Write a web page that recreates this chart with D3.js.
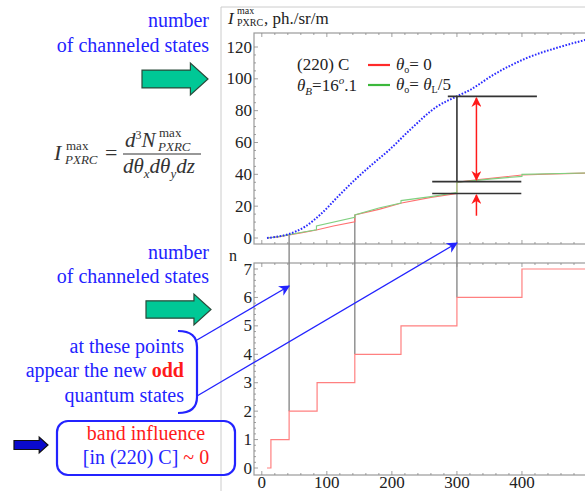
<!DOCTYPE html>
<html>
<head>
<meta charset="utf-8">
<script src="https://cdn.jsdelivr.net/npm/d3@7/dist/d3.min.js"></script>
<style>
  body { margin: 0; background: #fff; }
  svg { display: block; }
  svg text { font-family: "Liberation Serif", "DejaVu Serif", serif; }
</style>
</head>
<body>
<div id="chart"></div>
<script>
// crystal length L (µm) vs PXRC intensity, and number of channeled states n

// blue dotted curve (upper envelope)
const blueL = [8, 20, 40, 66, 92, 117, 143, 169, 195, 228, 269, 300, 320, 356, 407, 458, 500];
const blueI = [0, 0.6, 2.3, 7, 15.5, 26, 36.5, 46, 55, 68, 82.5, 89, 93, 102.5, 113, 120, 124.7];

// red curve, theta_o = 0 (jumps at new odd states)
const redL = [8, 25, 42, 60, 84, 110, 143, 143, 180, 215, 260, 300, 300, 330, 400, 450, 500];
const redI = [0, 0.7, 1.9, 3.2, 5, 7.5, 10.2, 14.5, 18, 22, 25.5, 28, 35, 36.5, 39.6, 40.3, 40.8];

// green curve, theta_o = theta_L/5
const greenL = [8, 25, 42, 60, 84, 84, 143, 143, 180, 214, 214, 260, 300, 300, 350, 400, 400, 500];
const greenI = [0, 0.8, 2.1, 3.5, 5.2, 7.6, 13, 14.5, 18.8, 22, 23.5, 26, 28.5, 35, 37, 38.7, 40, 40.9];

// number of channeled states (step function)
const stepL = [8, 14, 42, 85, 143, 214, 300, 400, 510];
const stepN = [0, 1, 2, 3, 4, 5, 6, 7, 7];

// lengths where new odd states appear, with intensity and n at that point
const oddL = [42, 143, 300];
const oddI = [2, 14.5, 28];
const oddN = [2, 4, 6];

const topTicks = [0, 20, 40, 60, 80, 100, 120];
const botTicks = [0, 1, 2, 3, 4, 5, 6, 7];
const xTicks = [0, 100, 200, 300, 400];

const W = 585, H = 491;
const BLUE = '#2323ff';
const RED = '#ff1a1a';
const SERIF = '"Liberation Serif", "DejaVu Serif", serif';

const svg = d3.select('#chart').append('svg').attr('width', W).attr('height', H)
  .attr('font-family', SERIF);

const x = d3.scaleLinear().domain([-12, 500]).range([254, 587]);
const yTop = d3.scaleLinear().domain([0, 120]).range([238, 47]);
const yBot = d3.scaleLinear().domain([0, 7]).range([468, 269]);

const defs = svg.append('defs');
function marker(id, color, w) {
  defs.append('marker')
    .attr('id', id).attr('viewBox', '0 0 10 10').attr('refX', 9).attr('refY', 5)
    .attr('markerWidth', w).attr('markerHeight', w).attr('orient', 'auto-start-reverse')
    .attr('markerUnits', 'userSpaceOnUse')
    .append('path').attr('d', 'M0,0 L10,5 L0,10 L3,5 Z').attr('fill', color);
}
marker('arrBlue', BLUE, 11);
marker('arrRed', RED, 10);

// outer slide border
svg.append('line').attr('x1', 221).attr('x2', 221).attr('y1', 7).attr('y2', H).attr('stroke', '#ccc');
svg.append('line').attr('x1', 221).attr('x2', W).attr('y1', 7).attr('y2', 7).attr('stroke', '#ccc');

// panel frames
const topBox = { x0: 254, x1: 600, y0: 33, y1: 244 };
const botBox = { x0: 254, x1: 600, y0: 263, y1: 475 };
[topBox, botBox].forEach(b => {
  svg.append('rect').attr('x', b.x0).attr('y', b.y0).attr('width', b.x1 - b.x0).attr('height', b.y1 - b.y0)
    .attr('fill', 'none').attr('stroke', '#9a9a9a').attr('stroke-width', 1.2);
});

// tick marks along frames
const gTicks = svg.append('g').attr('stroke', '#888').attr('stroke-width', 0.8);
d3.range(0, 501, 20).forEach(v => {
  const len = v % 100 === 0 ? 4 : 2;
  [topBox, botBox].forEach(b => {
    gTicks.append('line').attr('x1', x(v)).attr('x2', x(v)).attr('y1', b.y1).attr('y2', b.y1 - len);
    gTicks.append('line').attr('x1', x(v)).attr('x2', x(v)).attr('y1', b.y0).attr('y2', b.y0 + len);
  });
});
d3.range(0, 125, 5).forEach(v => {
  const len = v % 20 === 0 ? 4 : 2;
  gTicks.append('line').attr('x1', topBox.x0).attr('x2', topBox.x0 + len).attr('y1', yTop(v)).attr('y2', yTop(v));
});
d3.range(0, 7.01, 0.2).forEach(v => {
  const len = Math.abs(v - Math.round(v)) < 0.01 ? 4 : 2;
  gTicks.append('line').attr('x1', botBox.x0).attr('x2', botBox.x0 + len).attr('y1', yBot(v)).attr('y2', yBot(v));
});

// tick labels
svg.append('g').selectAll('text').data(topTicks).join('text')
  .attr('x', 252).attr('y', d => yTop(d) + 5.5).attr('text-anchor', 'end')
  .attr('font-size', 17).attr('fill', '#222').text(d => d);
svg.append('g').selectAll('text').data(botTicks).join('text')
  .attr('x', 252).attr('y', d => yBot(d) + 5.5).attr('text-anchor', 'end')
  .attr('font-size', 17).attr('fill', '#222').text(d => d);
svg.append('g').selectAll('text').data(xTicks).join('text')
  .attr('x', d => x(d)).attr('y', 488).attr('text-anchor', 'middle')
  .attr('font-size', 17).attr('fill', '#222').text(d => d);

svg.append('text').attr('x', 229).attr('y', 261).attr('font-size', 16).attr('fill', '#222').text('n');

// axis title
const title = svg.append('text').attr('y', 24).attr('font-size', 17).attr('fill', '#222');
title.append('tspan').attr('x', 228).attr('font-style', 'italic').text('I');
title.append('tspan').attr('x', 237).attr('y', 14).attr('font-size', 10).text('max');
title.append('tspan').attr('x', 237).attr('y', 26).attr('font-size', 10).text('PXRC');
title.append('tspan').attr('x', 264).attr('y', 24).text(', ph./sr/m');

// grey vertical lines linking odd-state jumps to the step plot
oddL.forEach((L, i) => {
  svg.append('line').attr('x1', x(L)).attr('x2', x(L))
    .attr('y1', yTop(oddI[i])).attr('y2', yBot(oddN[i]))
    .attr('stroke', '#8a8a8a').attr('stroke-width', 1.4);
});

const lineTop = d3.line().x(d => x(d[0])).y(d => yTop(d[1]));

svg.append('path').datum(d3.zip(redL, redI)).attr('d', lineTop)
  .attr('fill', 'none').attr('stroke', '#ff7070').attr('stroke-width', 1.1);
svg.append('path').datum(d3.zip(greenL, greenI)).attr('d', lineTop)
  .attr('fill', 'none').attr('stroke', '#80d080').attr('stroke-width', 1.1);
svg.append('path').datum(d3.zip(blueL, blueI)).attr('d', lineTop.curve(d3.curveMonotoneX))
  .attr('fill', 'none').attr('stroke', '#2a2aff').attr('stroke-width', 2)
  .attr('stroke-dasharray', '1.6,1.6');

// step plot
const lineBot = d3.line().x(d => x(d[0])).y(d => yBot(d[1])).curve(d3.curveStepAfter);
svg.append('path').datum(d3.zip(stepL, stepN)).attr('d', lineBot)
  .attr('fill', 'none').attr('stroke', '#ff8080').attr('stroke-width', 1.2);

// black annotation bars at L = 300
const gAnn = svg.append('g').attr('stroke', '#333').attr('stroke-width', 1.6);
gAnn.append('line').attr('x1', x(286)).attr('x2', x(423)).attr('y1', yTop(89)).attr('y2', yTop(89));
gAnn.append('line').attr('x1', x(262)).attr('x2', x(399)).attr('y1', yTop(35.4)).attr('y2', yTop(35.4));
gAnn.append('line').attr('x1', x(262)).attr('x2', x(399)).attr('y1', yTop(28)).attr('y2', yTop(28));
gAnn.append('line').attr('x1', x(300)).attr('x2', x(300)).attr('y1', yTop(89)).attr('y2', yTop(35.4));

// red arrows
svg.append('line').attr('x1', x(330)).attr('x2', x(330)).attr('y1', yTop(88)).attr('y2', yTop(36.5))
  .attr('stroke', RED).attr('stroke-width', 1.5)
  .attr('marker-start', 'url(#arrRed)').attr('marker-end', 'url(#arrRed)');
svg.append('line').attr('x1', x(330)).attr('x2', x(330)).attr('y1', yTop(14)).attr('y2', yTop(27))
  .attr('stroke', RED).attr('stroke-width', 1.5).attr('marker-end', 'url(#arrRed)');

// legend
svg.append('text').attr('x', 297).attr('y', 70).attr('font-size', 17).attr('fill', '#222').text('(220) C');
const tb = svg.append('text').attr('x', 297).attr('y', 91).attr('font-size', 17).attr('fill', '#222');
tb.append('tspan').attr('font-style', 'italic').text('θ');
tb.append('tspan').attr('font-style', 'italic').attr('font-size', 11).attr('dy', 4).text('B');
tb.append('tspan').attr('dy', -4).text('=16');
tb.append('tspan').attr('font-style', 'italic').attr('font-size', 11).attr('dy', -7).text('o');
tb.append('tspan').attr('dy', 7).text('.1');

svg.append('line').attr('x1', 368).attr('x2', 390).attr('y1', 65).attr('y2', 65).attr('stroke', '#ff2a2a').attr('stroke-width', 2.2);
svg.append('line').attr('x1', 368).attr('x2', 390).attr('y1', 85).attr('y2', 85).attr('stroke', '#3cb83c').attr('stroke-width', 2.2);
const l1 = svg.append('text').attr('x', 396).attr('y', 70).attr('font-size', 17).attr('fill', '#222');
l1.append('tspan').attr('font-style', 'italic').text('θ');
l1.append('tspan').attr('font-size', 10).attr('dy', 3).text('o');
l1.append('tspan').attr('dy', -3).text('= 0');
const l2 = svg.append('text').attr('x', 396).attr('y', 90).attr('font-size', 17).attr('fill', '#222');
l2.append('tspan').attr('font-style', 'italic').text('θ');
l2.append('tspan').attr('font-size', 10).attr('dy', 3).text('o');
l2.append('tspan').attr('dy', -3).text('= ');
l2.append('tspan').attr('font-style', 'italic').text('θ');
l2.append('tspan').attr('font-size', 10).attr('dy', 3).text('L');
l2.append('tspan').attr('dy', -3).text('/5');

// left side: blue captions
function caption(y1, y2) {
  svg.append('text').attr('x', 209).attr('y', y1).attr('text-anchor', 'end')
    .attr('font-size', 20).attr('fill', BLUE).text('number');
  svg.append('text').attr('x', 209).attr('y', y2).attr('text-anchor', 'end')
    .attr('font-size', 20).attr('fill', BLUE).text('of channeled states');
}
caption(27, 52);
caption(259, 283);

function fatArrow(x0, y0, x1, y1, fill, stroke) {
  const h = y1 - y0, mid = (y0 + y1) / 2, sh = h * 0.28, hx = x1 - h * 0.55;
  svg.append('path')
    .attr('d', `M${x0},${mid - sh} L${hx},${mid - sh} L${hx},${y0} L${x1},${mid} L${hx},${y1} L${hx},${mid + sh} L${x0},${mid + sh} Z`)
    .attr('fill', fill).attr('stroke', stroke).attr('stroke-width', 1.2);
}
fatArrow(142, 63, 208, 95, '#00c896', '#2a4a3a');
fatArrow(146, 294, 211, 325, '#00c896', '#2a4a3a');
fatArrow(14, 437, 48, 453, '#0a0acc', '#111');

// formula
const f = svg.append('g').attr('fill', '#333');
f.append('text').attr('x', 54).attr('y', 160).attr('font-size', 22).attr('font-style', 'italic').text('I');
f.append('text').attr('x', 66).attr('y', 150).attr('font-size', 13).text('max');
f.append('text').attr('x', 65).attr('y', 164).attr('font-size', 13).attr('font-style', 'italic').text('PXRC');
f.append('text').attr('x', 105).attr('y', 160).attr('font-size', 22).text('=');
const num = f.append('text').attr('x', 125).attr('y', 147).attr('font-size', 21).attr('font-style', 'italic');
num.append('tspan').text('d');
num.append('tspan').attr('font-style', 'normal').attr('font-size', 12).attr('dy', -8).text('3');
num.append('tspan').attr('dy', 8).text('N');
f.append('text').attr('x', 159).attr('y', 137).attr('font-size', 13).text('max');
f.append('text').attr('x', 158).attr('y', 151).attr('font-size', 13).attr('font-style', 'italic').text('PXRC');
f.append('line').attr('x1', 123).attr('x2', 201).attr('y1', 154).attr('y2', 154).attr('stroke', '#333').attr('stroke-width', 1.2);
const den = f.append('text').attr('x', 123).attr('y', 173).attr('font-size', 21).attr('font-style', 'italic');
den.append('tspan').text('dθ');
den.append('tspan').attr('font-size', 13).attr('dy', 5).text('x');
den.append('tspan').attr('dy', -5).text('dθ');
den.append('tspan').attr('font-size', 13).attr('dy', 5).text('y');
den.append('tspan').attr('dy', -5).text('dz');

// bracketed note with arrows
const note = svg.append('g').attr('font-size', 20).attr('fill', BLUE).attr('text-anchor', 'end');
note.append('text').attr('x', 184).attr('y', 353).text('at these points');
const n2 = note.append('text').attr('x', 184).attr('y', 377);
n2.append('tspan').text('appear the new ');
n2.append('tspan').attr('fill', RED).attr('font-weight', 'bold').text('odd');
note.append('text').attr('x', 184).attr('y', 402).text('quantum states');

svg.append('path')
  .attr('d', 'M178,331 Q197,331 197,347 L197,397 Q197,413 178,413')
  .attr('fill', 'none').attr('stroke', BLUE).attr('stroke-width', 2.2);

svg.append('line').attr('x1', 197).attr('y1', 340).attr('x2', x(oddL[0])).attr('y2', 286)
  .attr('stroke', BLUE).attr('stroke-width', 1.3).attr('marker-end', 'url(#arrBlue)');
svg.append('line').attr('x1', 197).attr('y1', 396).attr('x2', x(oddL[2])).attr('y2', 243)
  .attr('stroke', BLUE).attr('stroke-width', 1.3).attr('marker-end', 'url(#arrBlue)');

// band influence box
svg.append('rect').attr('x', 57).attr('y', 421).attr('width', 178).attr('height', 54).attr('rx', 11)
  .attr('fill', 'none').attr('stroke', BLUE).attr('stroke-width', 2.2);
svg.append('text').attr('x', 146).attr('y', 440).attr('text-anchor', 'middle')
  .attr('font-size', 20).attr('fill', RED).text('band influence');
const b2 = svg.append('text').attr('x', 146).attr('y', 464).attr('text-anchor', 'middle').attr('font-size', 20);
b2.append('tspan').attr('fill', BLUE).text('[in (220) C] ');
b2.append('tspan').attr('fill', RED).text('~ 0');
</script>
</body>
</html>
